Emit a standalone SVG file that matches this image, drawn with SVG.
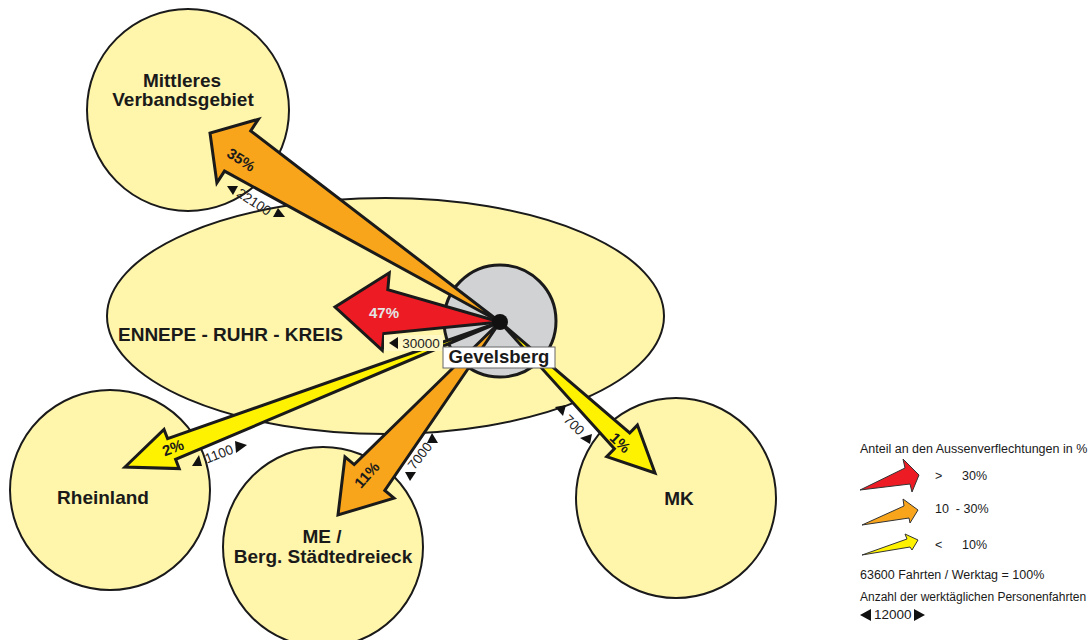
<svg xmlns="http://www.w3.org/2000/svg" width="1090" height="640" viewBox="0 0 1090 640">
<style>
.area{fill:#FFF6AC;stroke:#1a1a1a;stroke-width:2}
.lbl{font-family:"Liberation Sans",Arial,sans-serif;font-weight:bold;font-size:19px;fill:#1a1a1a;text-anchor:middle}
.arr{stroke:#1a1a1a;stroke-width:3;stroke-linejoin:miter}
.red{fill:#ED1C24}.org{fill:#F8A51C}.yel{fill:#FFF200}
.pct{font-family:"Liberation Sans",Arial,sans-serif;font-weight:bold;font-size:15px;fill:#1a1a1a;text-anchor:middle}
.cnt{font-family:"Liberation Sans",Arial,sans-serif;font-size:13.5px;fill:#222;text-anchor:middle}
.tri{fill:#111}
.leg{font-family:"Liberation Sans",Arial,sans-serif;font-size:12.5px;fill:#1a1a1a}
.larr{stroke:#333;stroke-width:1}
</style>
<rect width="1090" height="640" fill="#fff"/>
<g id="node-mittleres">
<circle class="area" cx="188" cy="110" r="101"/>
<text class="lbl" x="182" y="87">Mittleres</text>
<text class="lbl" x="183" y="106">Verbandsgebiet</text>
</g>
<g id="node-ennepe">
<ellipse class="area" cx="385.5" cy="316" rx="278.5" ry="118"/>
<text class="lbl" x="118" y="341" style="text-anchor:start">ENNEPE - RUHR - KREIS</text>
</g>
<g id="node-rheinland">
<circle class="area" cx="110" cy="490" r="100"/>
<text class="lbl" x="103" y="504">Rheinland</text>
</g>
<g id="node-me">
<circle class="area" cx="323" cy="547" r="100"/>
<text class="lbl" x="322" y="543">ME /</text>
<text class="lbl" x="323" y="563">Berg. Städtedreieck</text>
</g>
<g id="node-mk">
<circle class="area" cx="676" cy="498" r="100"/>
<text class="lbl" x="679" y="505">MK</text>
</g>
<g id="node-gevelsberg-circle">
<circle cx="500" cy="321" r="56" fill="#D1D2D4" stroke="#1a1a1a" stroke-width="3"/>
</g>
<g id="connectors">
<g id="arrow-35">
<polygon class="arr org" points="500,322 250.7,130.9 258.4,119.2 210,133 216.9,182.9 224.5,171.1"/>
<text class="pct" transform="translate(241,160) rotate(33)" y="5">35%</text>
<polygon class="tri" points="227,186 238,186 233,195"/>
<text class="cnt" transform="translate(254,202) rotate(33)" y="4.5">22100</text>
<polygon class="tri" points="278,208 273,217 285,217"/>
</g>
<g id="arrow-1">
<polygon class="arr yel" points="500,322 629.7,433 637.4,425.1 655,473 606.7,456.7 614.4,448.8"/>
<text class="pct" transform="translate(620,443) rotate(44)" y="5">1%</text>
<polygon class="tri" points="555,407 566,405 563,416"/>
<text class="cnt" transform="translate(574,425) rotate(44)" y="4.5">700</text>
<polygon class="tri" points="580,438 592,434 590,444"/>
</g>
<g id="arrow-11">
<polygon class="arr org" points="500,322 384.8,490.4 394,498.1 338,515 345,456.9 354.2,464.6"/>
<text class="pct" transform="translate(367,475) rotate(-48)" y="5">11%</text>
<polygon class="tri" points="405,472 416,472 410,481"/>
<text class="cnt" transform="translate(420,456) rotate(-52)" y="4.5">7000</text>
<polygon class="tri" points="432,433 427,443 438,443"/>
</g>
<g id="arrow-2">
<polygon class="arr yel" points="500,322 167.6,438.7 164,429.4 125,467 179.2,468.6 175.6,459.3"/>
<text class="pct" transform="translate(173,448) rotate(-21)" y="5">2%</text>
<polygon class="tri" points="199,455 192,466 202,466"/>
<text class="cnt" transform="translate(219,454) rotate(-21)" y="4.5">1100</text>
<polygon class="tri" points="235,441 236,453 247,445"/>
</g>
<g id="arrow-47">
<polygon class="arr red" points="500,322 387.8,289.7 389.3,272.8 335,307 382.3,350.4 383.8,333.5"/>
<text class="pct" x="384" y="318" style="fill:#E4E4E4">47%</text>
<rect x="384" y="335" width="59" height="16" fill="#FFF8C4"/>
<polygon class="tri" points="398,337 398,349 389,343"/>
<text class="cnt" x="421" y="348">30000</text>
</g>
</g>
<circle cx="500" cy="322" r="8" fill="#111"/>
<g id="node-gevelsberg-label">
<rect x="443" y="347" width="112" height="21" fill="#fff" stroke="#666" stroke-width="1"/>
<text class="lbl" x="499" y="363" style="font-size:18.5px">Gevelsberg</text>
</g>
<g id="legend">
<text class="leg" x="860" y="453">Anteil an den Aussenverflechtungen in %</text>
<polygon class="larr red" points="860,490 905,468 903,459 919,475 912,492 910,484"/>
<text class="leg" x="935" y="480">&gt;</text>
<text class="leg" x="962" y="480">30%</text>
<polygon class="larr org" points="862,525 904,506 903,499 918,510 910,523 909,518"/>
<text class="leg" x="935" y="513" xml:space="preserve">10  - 30%</text>
<polygon class="larr yel" points="862,555 907,539 905,534 918,540 912,550 910,547"/>
<text class="leg" x="935" y="549">&lt;</text>
<text class="leg" x="962" y="549">10%</text>
<text class="leg" x="860" y="579">63600 Fahrten / Werktag = 100%</text>
<text class="leg" x="860" y="601" style="font-size:12px">Anzahl der werktäglichen Personenfahrten</text>
<polygon class="tri" points="871,609 871,621 860,615"/>
<text class="leg" x="874" y="619" style="font-size:13.5px">12000</text>
<polygon class="tri" points="914,609 914,621 925,615"/>
</g>
</svg>
